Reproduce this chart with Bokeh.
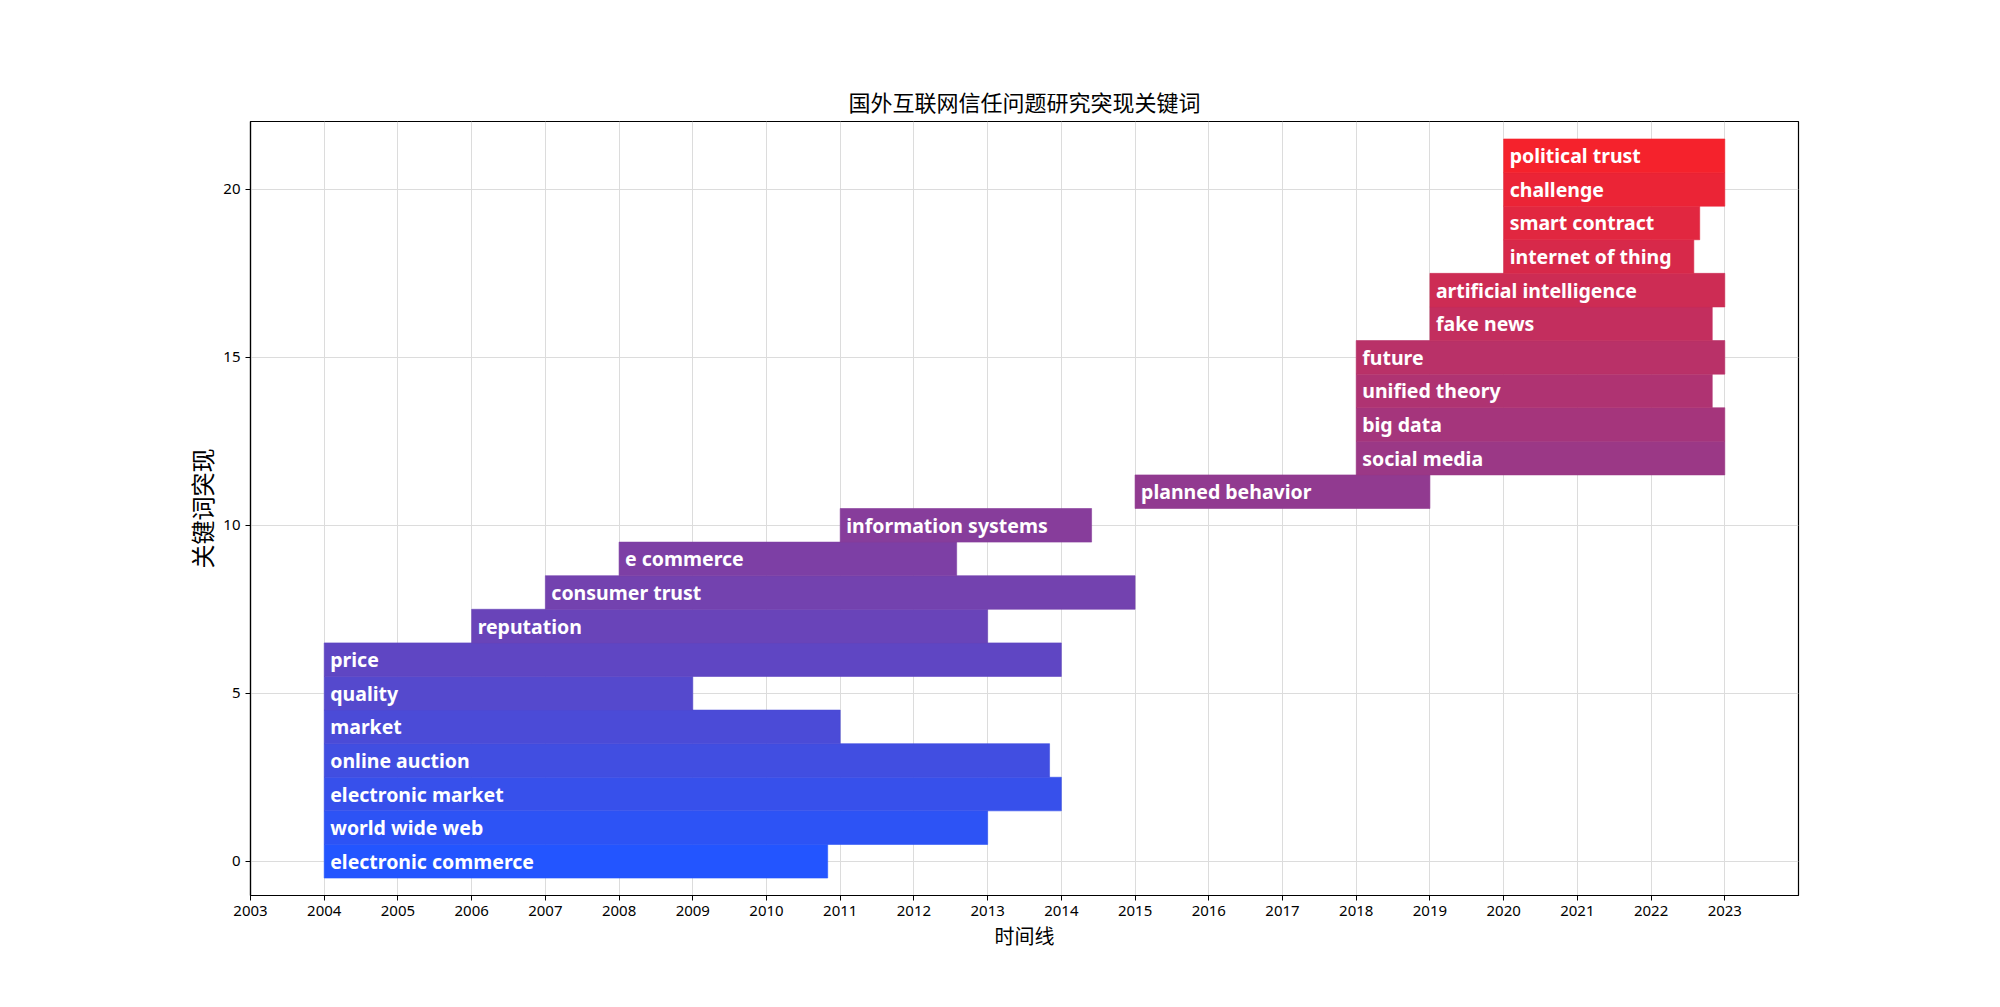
from bokeh.plotting import figure
from bokeh.models import ColumnDataSource, Range1d, FixedTicker
from bokeh.core.properties import value
from bokeh.embed import file_html
from bokeh.resources import INLINE

keywords = ["electronic commerce", "world wide web", "electronic market", "online auction",
            "market", "quality", "price", "reputation", "consumer trust", "e commerce",
            "information systems", "planned behavior", "social media", "big data",
            "unified theory", "future", "fake news", "artificial intelligence",
            "internet of thing", "smart contract", "challenge", "political trust"]
begin_year = [2004, 2004, 2004, 2004, 2004, 2004, 2004, 2006, 2007, 2008,
              2011, 2015, 2018, 2018, 2018, 2018, 2019, 2019, 2020, 2020, 2020, 2020]
end_year = [2010.83, 2013, 2014, 2013.84, 2011, 2009, 2014, 2013, 2015, 2012.58,
            2014.41, 2019, 2023, 2023, 2022.83, 2023, 2022.83, 2023, 2022.58, 2022.66, 2023, 2023]
x_ticks = list(range(2003, 2024))
y_ticks = [0, 5, 10, 15, 20]

n = len(keywords)
c0 = (35, 85, 255)
c1 = (245, 34, 44)
colors = []
for i in range(n):
    t = i / (n - 1)
    r = round(c0[0] + (c1[0] - c0[0]) * t)
    g = round(c0[1] + (c1[1] - c0[1]) * t)
    b = round(c0[2] + (c1[2] - c0[2]) * t)
    colors.append("#%02x%02x%02x" % (r, g, b))

src = ColumnDataSource(dict(y=list(range(n)), left=begin_year, right=end_year,
                            kw=keywords, color=colors))

p = figure(output_backend="svg", toolbar_location=None,
           frame_width=1548, frame_height=774,
           min_border_left=250, min_border_top=121, min_border_right=186, min_border_bottom=96,
           x_range=Range1d(2003, 2024), y_range=Range1d(-1.02, 22.02),
           title="国外互联网信任问题研究突现关键词")

p.hbar(y="y", left="left", right="right", height=1, fill_color="color",
       line_color="color", line_width=0.6, source=src)
p.text(x="left", y="y", text="kw", source=src, text_color="white",
       text_font=value("Noto Sans"), text_font_style="bold", text_font_size="19.5px",
       text_baseline="middle", text_align="left", x_offset=6)

p.title.align = "center"
p.title.text_font = "Noto Sans CJK SC"
p.title.text_font_size = "22px"
p.title.text_font_style = "normal"
p.title.text_color = "black"

p.xaxis.ticker = FixedTicker(ticks=x_ticks)
p.yaxis.ticker = FixedTicker(ticks=y_ticks)
p.xaxis.axis_label = "时间线"
p.yaxis.axis_label = "关键词突现"
for ax in (p.xaxis, p.yaxis):
    ax.axis_label_text_font = "Noto Sans CJK SC"
    ax.axis_label_text_font_style = "normal"
    ax.axis_label_text_color = "black"
    ax.major_label_text_font = "Noto Sans"
    ax.major_label_text_font_size = "15px"
    ax.major_label_text_color = "black"
    ax.minor_tick_line_color = None
    ax.major_tick_in = 0
    ax.major_tick_out = 5
    ax.major_tick_line_color = "black"
    ax.axis_line_color = "black"
    ax.axis_line_width = 1.2
p.xaxis.axis_label_text_font_size = "20px"
p.yaxis.axis_label_text_font_size = "24px"
p.xaxis.axis_label_standoff = 2
p.yaxis.axis_label_standoff = 1

p.grid.grid_line_color = "#dcdcdc"
p.grid.grid_line_width = 1
p.outline_line_color = "black"
p.outline_line_width = 1.2
p.outline_line_alpha = 1

open("out.html", "w").write(file_html(p, INLINE))
